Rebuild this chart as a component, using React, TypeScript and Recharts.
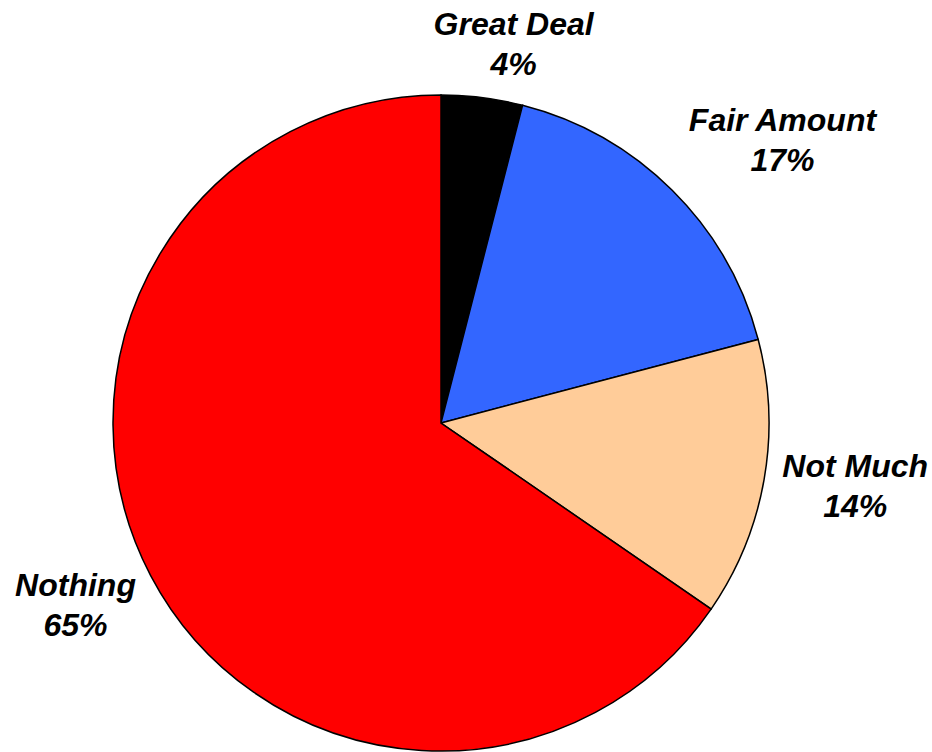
import React from 'react';
import { PieChart, Pie, Cell } from 'recharts';

const categories = ['Great Deal', 'Fair Amount', 'Not Much', 'Nothing'];
// shares as drawn by the slice edges; labels show them rounded
const shares = [4.0, 16.9, 13.7, 65.4];
const colors = ['#000000', '#3366FF', '#FFCC99', '#FF0000'];

const data = categories.map((name, i) => ({ name, value: shares[i] }));

// small nudges so each label sits where the original "best fit" put it
const nudges: [number, number][] = [
  [24, 5],
  [68, -8],
  [32, -4],
  [-22, 1],
];

const RADIAN = Math.PI / 180;

const renderLabel = (props: any) => {
  const { cx, cy, midAngle, outerRadius, index, name, value } = props;
  const r = outerRadius + 60;
  const x = cx + r * Math.cos(-midAngle * RADIAN) + nudges[index][0];
  const yc = cy + r * Math.sin(-midAngle * RADIAN) + nudges[index][1];
  const y0 = yc - 8.5;
  return (
    <text
      x={x}
      y={y0}
      textAnchor="middle"
      fill="#000"
      fontFamily="'Liberation Sans', Arial, sans-serif"
      fontWeight="bold"
      fontStyle="italic"
      fontSize={32}
    >
      <tspan x={x} y={y0}>{name}</tspan>
      <tspan x={x} y={y0 + 40}>{`${Math.round(value)}%`}</tspan>
    </text>
  );
};

export default function App() {
  return (
    <div style={{ position: 'absolute', left: 0, top: 0, width: 932, height: 752, background: '#fff' }}>
      <PieChart width={932} height={752} margin={{ top: 0, right: 0, bottom: 0, left: 0 }}>
        <Pie
          data={data}
          dataKey="value"
          nameKey="name"
          cx={441}
          cy={423}
          outerRadius={328}
          startAngle={90}
          endAngle={-270}
          stroke="#000"
          strokeWidth={1.5}
          label={renderLabel}
          labelLine={false}
          isAnimationActive={false}
        >
          {data.map((d, i) => (
            <Cell key={d.name} fill={colors[i]} />
          ))}
        </Pie>
      </PieChart>
    </div>
  );
}
